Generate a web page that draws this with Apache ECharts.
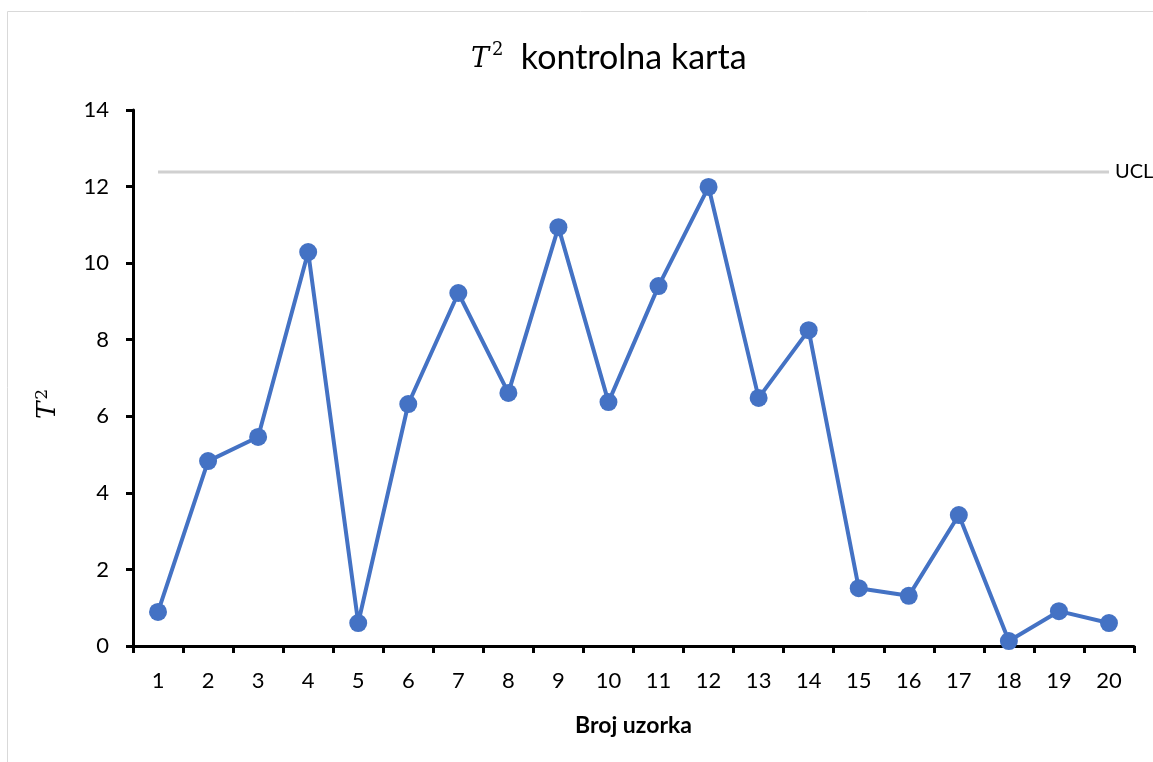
<!DOCTYPE html>
<html>
<head>
<meta charset="utf-8">
<script src="https://cdn.jsdelivr.net/npm/echarts@6/dist/echarts.min.js"></script>
<style>
  html, body { margin: 0; padding: 0; background: #fff; }
  #main { width: 1153px; height: 762px; }
</style>
</head>
<body>
<div id="main"></div>
<script>
// podaci
var samples = ['1','2','3','4','5','6','7','8','9','10','11','12','13','14','15','16','17','18','19','20'];
var t2Values = [0.89, 4.83, 5.46, 10.29, 0.60, 6.32, 9.22, 6.61, 10.94, 6.37, 9.40, 11.99, 6.48, 8.25, 1.51, 1.31, 3.42, 0.13, 0.91, 0.60];
var uclValue = 12.38;
var uclLine = samples.map(function () { return uclValue; });

var chart = echarts.init(document.getElementById('main'));
var font = 'Lato, "Open Sans", sans-serif';

var option = {
  animation: false,
  textStyle: { fontFamily: font },
  graphic: [{
    type: 'rect',
    shape: { x: 7.5, y: 11.5, width: 1200, height: 800 },
    style: { fill: 'none', stroke: '#d9d9d9', lineWidth: 1 },
    silent: true
  }],
  title: {
    text: '{t|T}{s|2}  kontrolna karta',
    left: 466,
    top: 36,
    textStyle: {
      fontFamily: font,
      fontSize: 34,
      fontWeight: 'normal',
      color: '#000',
      rich: {
        t: { fontFamily: '"DejaVu Serif", serif', fontStyle: 'italic', fontSize: 27, color: '#000', padding: [4, 0, 0, 0] },
        s: { fontFamily: '"DejaVu Serif", serif', fontSize: 18, color: '#000', verticalAlign: 'top', padding: [0, 0, 12, 3] }
      }
    }
  },
  grid: { left: 133, right: 19, top: 110, bottom: 116 },
  xAxis: {
    type: 'category',
    data: samples,
    boundaryGap: true,
    name: 'Broj uzorka',
    nameLocation: 'middle',
    nameGap: 68,
    nameTextStyle: { fontFamily: font, fontSize: 23, fontWeight: 'bold', color: '#000' },
    axisLine: { lineStyle: { color: '#000', width: 3 } },
    axisTick: { show: true, alignWithLabel: false, length: 7, lineStyle: { color: '#000', width: 3 } },
    axisLabel: { fontFamily: font, fontSize: 22, color: '#000', margin: 24 },
    splitLine: { show: false }
  },
  yAxis: {
    type: 'value',
    min: 0,
    max: 14,
    interval: 2,
    name: '{t|T}{s|2}',
    nameLocation: 'middle',
    nameGap: 70,
    nameRotate: 90,
    nameTextStyle: {
      padding: [0, 52, 0, 0],
      rich: {
        t: { fontFamily: '"DejaVu Serif", serif', fontStyle: 'italic', fontSize: 26, color: '#000' },
        s: { fontFamily: '"DejaVu Serif", serif', fontSize: 17, color: '#000', verticalAlign: 'top', padding: [0, 0, 12, 2] }
      }
    },
    axisLine: { show: true, lineStyle: { color: '#000', width: 3 } },
    axisTick: { show: true, length: 7, lineStyle: { color: '#000', width: 3 } },
    axisLabel: { fontFamily: font, fontSize: 22, color: '#000', margin: 24 },
    splitLine: { show: false }
  },
  series: [
    {
      name: 'UCL',
      type: 'line',
      data: uclLine,
      symbol: 'none',
      lineStyle: { color: '#d0d0d0', width: 3 },
      endLabel: { show: true, formatter: 'UCL', fontFamily: font, fontSize: 20, color: '#000', distance: 6 },
      z: 1
    },
    {
      name: 'T2',
      type: 'line',
      data: t2Values,
      symbol: 'circle',
      symbolSize: 18,
      lineStyle: { color: '#4472C4', width: 4 },
      itemStyle: { color: '#4472C4' },
      z: 2
    }
  ]
};

chart.setOption(option);
</script>
</body>
</html>
